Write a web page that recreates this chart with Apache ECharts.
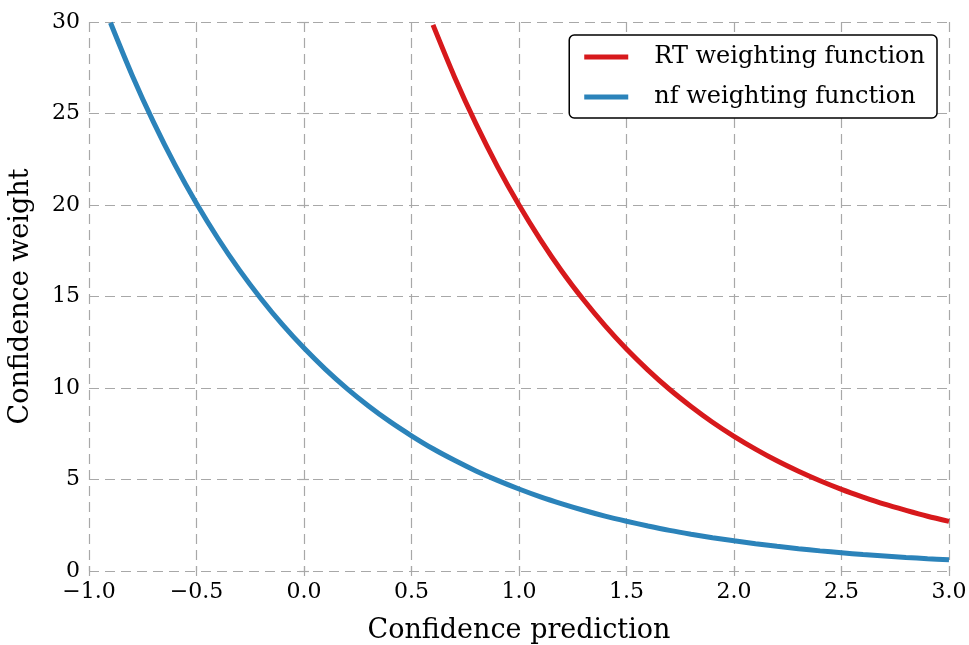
<!DOCTYPE html>
<html>
<head>
<meta charset="utf-8">
<script src="https://cdn.jsdelivr.net/npm/echarts@6/dist/echarts.min.js"></script>
<style>
  html, body { margin: 0; padding: 0; background: #fff; }
  #main { width: 969px; height: 645px; }
</style>
</head>
<body>
<div id="main"></div>
<script>
// values
var rtX = [0.6, 0.7, 0.8, 0.9, 1.0, 1.1, 1.2, 1.3, 1.4, 1.5, 1.6, 1.7, 1.8,
           1.9, 2.0, 2.1, 2.2, 2.3, 2.4, 2.5, 2.6, 2.7, 2.8, 2.9, 3.0];
var rtY = [29.84, 27.00, 24.43, 22.10, 20.00, 18.10, 16.37, 14.82, 13.41, 12.13, 10.98, 9.93, 8.99,
           8.13, 7.36, 6.66, 6.02, 5.45, 4.93, 4.46, 4.04, 3.65, 3.31, 2.99, 2.71];

var nfX = [-0.9, -0.8, -0.7, -0.6, -0.5, -0.4, -0.3, -0.2, -0.1, 0.0,
           0.1, 0.2, 0.3, 0.4, 0.5, 0.6, 0.7, 0.8, 0.9, 1.0,
           1.1, 1.2, 1.3, 1.4, 1.5, 1.6, 1.7, 1.8, 1.9, 2.0,
           2.1, 2.2, 2.3, 2.4, 2.5, 2.6, 2.7, 2.8, 2.9, 3.0];
var nfY = [29.96, 27.11, 24.53, 22.19, 20.08, 18.17, 16.44, 14.88, 13.46, 12.18,
           11.02, 9.97, 9.02, 8.16, 7.39, 6.68, 6.05, 5.47, 4.95, 4.48,
           4.05, 3.67, 3.32, 3.00, 2.72, 2.46, 2.22, 2.01, 1.82, 1.65,
           1.49, 1.35, 1.22, 1.10, 1.00, 0.90, 0.82, 0.74, 0.67, 0.61];

var seriesNames = ['RT weighting function', 'nf weighting function'];
var colors = ['#d7191c', '#2b83ba'];

function pairs(xs, ys) {
    var out = [];
    for (var i = 0; i < xs.length; i++) out.push([xs[i], ys[i]]);
    return out;
}

var font = 'DejaVu Serif';
var gridLine = { show: true, lineStyle: { color: '#a8a8a8', width: 1.2, type: [10, 6] } };
var tick = { show: true, inside: true, length: 5, lineStyle: { color: '#a8a8a8', width: 1.2 } };

var myChart = echarts.init(document.getElementById('main'));

var option = {
    animation: false,
    color: colors,
    textStyle: { fontFamily: font, color: '#000' },
    grid: { left: 89, right: 20, top: 22, bottom: 74, outerBoundsMode: 'none', containLabel: false },
    legend: {
        right: 32,
        top: 35,
        orient: 'vertical',
        data: seriesNames,
        icon: 'rect',
        itemWidth: 44,
        itemHeight: 5,
        itemGap: 16,
        padding: [10, 12, 9, 15],
        borderColor: '#000',
        borderWidth: 1.5,
        borderRadius: 5,
        backgroundColor: '#fff',
        textStyle: { fontFamily: font, fontSize: 24, color: '#000', padding: [0, 0, 0, 21] }
    },
    xAxis: [
        {
            type: 'value',
            min: -1,
            max: 3,
            interval: 0.5,
            name: 'Confidence prediction',
            nameLocation: 'middle',
            nameGap: 46,
            nameTextStyle: { fontFamily: font, fontSize: 27, color: '#000' },
            axisLine: { show: false },
            axisTick: tick,
            splitLine: gridLine,
            axisLabel: {
                fontFamily: font, fontSize: 22, color: '#000', margin: 10,
                formatter: function (v) { return v.toFixed(1).replace('-', '\u2212'); }
            }
        },
        {
            type: 'value', position: 'top', min: -1, max: 3, interval: 0.5,
            axisLine: { show: false }, axisTick: tick,
            axisLabel: { show: false }, splitLine: { show: false }
        }
    ],
    yAxis: [
        {
            type: 'value',
            min: 0,
            max: 30,
            interval: 5,
            name: 'Confidence weight',
            nameLocation: 'middle',
            nameGap: 55,
            nameTextStyle: { fontFamily: font, fontSize: 27, color: '#000' },
            axisLine: { show: false },
            axisTick: tick,
            splitLine: gridLine,
            axisLabel: { fontFamily: font, fontSize: 22, color: '#000', margin: 9 }
        },
        {
            type: 'value', position: 'right', min: 0, max: 30, interval: 5,
            axisLine: { show: false }, axisTick: tick,
            axisLabel: { show: false }, splitLine: { show: false }
        }
    ],
    series: [
        {
            name: seriesNames[0],
            type: 'line',
            data: pairs(rtX, rtY),
            smooth: 0.3,
            showSymbol: false,
            clip: true,
            lineStyle: { width: 5, color: colors[0] }
        },
        {
            name: seriesNames[1],
            type: 'line',
            data: pairs(nfX, nfY),
            smooth: 0.3,
            showSymbol: false,
            clip: true,
            lineStyle: { width: 5, color: colors[1] }
        }
    ]
};

myChart.setOption(option);
</script>
</body>
</html>
